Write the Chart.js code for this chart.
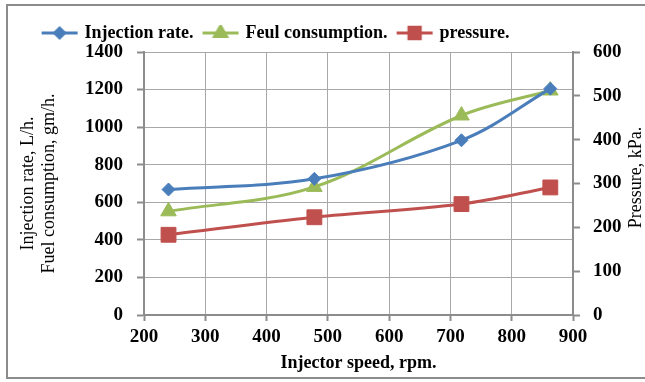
<!DOCTYPE html>
<html>
<head>
<meta charset="utf-8">
<script src="https://cdn.jsdelivr.net/npm/chart.js@4/dist/chart.umd.min.js"></script>
<style>
  html, body { margin: 0; padding: 0; background: #fff; }
  #wrap { position: relative; width: 645px; height: 382px; overflow: hidden; }
  #frame { position: absolute; left: 6px; top: 4px; width: 700px; height: 371px; border: 2px solid #8c8c8c; }
  #kpChart { position: absolute; left: 0; top: 0; }
</style>
</head>
<body>
<div id="wrap">
  <div id="frame"></div>
  <canvas id="kpChart" width="645" height="382"></canvas>
</div>
<script>
// values
const speeds = [240, 478, 718, 863];
const injectionRate = [668, 725, 930, 1205];
const fuelConsumption = [552, 682, 1062, 1195];
const pressure = [183, 223, 253, 291];

const seriesNames = ['Injection rate.', 'Feul consumption.', 'pressure.'];
const xTitle = 'Injector speed, rpm.';
const leftTitle = ['Injection rate, L/h.', 'Fuel consumption, gm/h.'];
const rightTitle = 'Pressure, kPa.';

const blue = '#4a7ebb';
const green = '#9bbb59';
const red = '#c0504d';
const axisGray = '#8c8c8c';
const gridGray = '#a8a8a8';

Chart.defaults.font.family = '"Liberation Serif", "Times New Roman", serif';
Chart.defaults.color = '#000';

function toPoints(xs, ys) {
  return xs.map((x, i) => ({ x: x, y: ys[i] }));
}

// little line + marker picture for each legend entry
function legendIcon(color, style, radius) {
  const c = document.createElement('canvas');
  c.width = 38;
  c.height = 16;
  const ctx = c.getContext('2d');
  ctx.strokeStyle = color;
  ctx.lineWidth = 3;
  ctx.beginPath();
  ctx.moveTo(1, 8);
  ctx.lineTo(37, 8);
  ctx.stroke();
  ctx.fillStyle = color;
  Chart.helpers.drawPoint(ctx, { pointStyle: style, radius: radius, borderWidth: 1, rotation: 0 }, 19, 8);
  ctx.fill();
  return c;
}

const rightTitlePlugin = {
  id: 'rightTitle',
  afterDraw(chart) {
    const ctx = chart.ctx;
    const area = chart.chartArea;
    ctx.save();
    ctx.translate(chart.scales.y1.right - 9, (area.top + area.bottom) / 2 - 6);
    ctx.rotate(-Math.PI / 2);
    ctx.font = '18px "Liberation Serif", "Times New Roman", serif';
    ctx.fillStyle = '#000';
    ctx.textAlign = 'center';
    ctx.textBaseline = 'middle';
    ctx.fillText(rightTitle, 0, 0);
    ctx.restore();
  }
};

// the legend in the picture sits left of centre
const legendShift = {
  id: 'legendShift',
  afterLayout(chart) {
    chart.legend.left -= 50;
    chart.legend.right -= 50;
  }
};

const tickFont = { size: 19, weight: 'bold' };
const plainNumber = v => String(v);

new Chart(document.getElementById('kpChart'), {
  type: 'line',
  data: {
    datasets: [{
      label: seriesNames[0],
      data: toPoints(speeds, injectionRate),
      yAxisID: 'y',
      borderColor: blue,
      backgroundColor: blue,
      borderWidth: 3,
      pointStyle: 'rectRot',
      pointRadius: 6.5,
      pointBorderWidth: 1,
      tension: 0.35,
      legendIcon: legendIcon(blue, 'rectRot', 5)
    }, {
      label: seriesNames[1],
      data: toPoints(speeds, fuelConsumption),
      yAxisID: 'y',
      borderColor: green,
      backgroundColor: green,
      borderWidth: 3,
      pointStyle: 'triangle',
      pointRadius: 9,
      pointBorderWidth: 1,
      tension: 0.35,
      legendIcon: legendIcon(green, 'triangle', 7)
    }, {
      label: seriesNames[2],
      data: toPoints(speeds, pressure),
      yAxisID: 'y1',
      borderColor: red,
      backgroundColor: red,
      borderWidth: 3,
      pointStyle: 'rect',
      pointRadius: 10.5,
      pointBorderWidth: 1,
      tension: 0.35,
      legendIcon: legendIcon(red, 'rect', 8)
    }]
  },
  options: {
    responsive: false,
    animation: false,
    layout: { padding: { left: 8, right: 0, top: 13, bottom: 0 } },
    plugins: {
      tooltip: { enabled: false },
      legend: {
        position: 'top',
        labels: {
          usePointStyle: true,
          pointStyleWidth: 32,
          boxHeight: 14,
          padding: 11,
          font: { size: 18, weight: 'bold' },
          generateLabels(chart) {
            return chart.data.datasets.map((ds, i) => ({
              text: ds.label,
              pointStyle: ds.legendIcon,
              fillStyle: ds.borderColor,
              strokeStyle: ds.borderColor,
              lineWidth: 0,
              datasetIndex: i,
              hidden: false
            }));
          }
        }
      }
    },
    scales: {
      x: {
        type: 'linear',
        min: 200,
        max: 900,
        afterFit(s) { s.height = 67; },
        ticks: { stepSize: 100, font: tickFont, padding: 5, maxRotation: 0, callback: plainNumber },
        grid: { color: gridGray, lineWidth: 1, tickLength: 6, tickColor: axisGray, tickWidth: 2 },
        border: { color: axisGray, width: 2 },
        title: {
          display: true,
          text: xTitle,
          font: { size: 18, weight: 'bold' },
          padding: { top: 0, bottom: 8 }
        }
      },
      y: {
        position: 'left',
        min: 0,
        max: 1400,
        afterFit(s) { s.width = 136; },
        ticks: { stepSize: 200, font: tickFont, padding: 14, callback: plainNumber },
        grid: { color: gridGray, lineWidth: 1, tickLength: 7, tickColor: axisGray, tickWidth: 2 },
        border: { color: axisGray, width: 2 },
        title: {
          display: true,
          text: leftTitle,
          font: { size: 18 },
          padding: { top: 9, bottom: 0 }
        }
      },
      y1: {
        position: 'right',
        min: 0,
        max: 600,
        afterFit(s) { s.width = 72; },
        ticks: { stepSize: 100, font: tickFont, padding: 13, callback: plainNumber },
        grid: { drawOnChartArea: false, tickLength: 7, tickColor: axisGray, tickWidth: 2 },
        border: { color: axisGray, width: 2 }
      }
    }
  },
  plugins: [rightTitlePlugin, legendShift]
});
</script>
</body>
</html>
